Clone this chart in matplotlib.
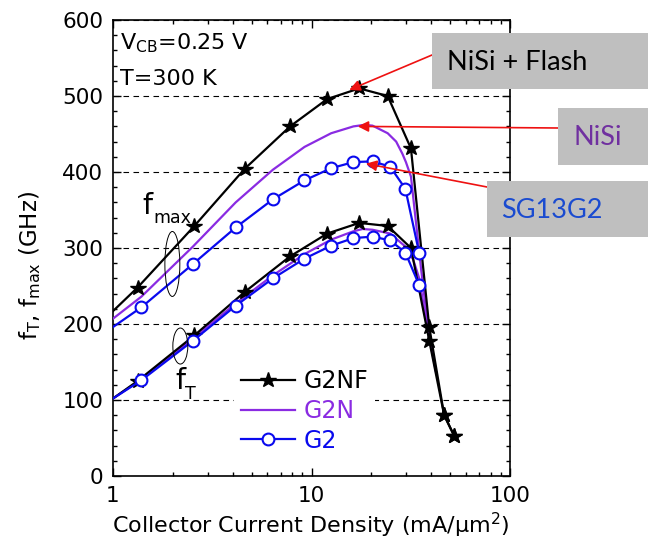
import matplotlib
matplotlib.use('Agg')
import matplotlib.pyplot as plt
from matplotlib.patches import Ellipse, Rectangle
from matplotlib.lines import Line2D
from matplotlib.ticker import MultipleLocator, FixedLocator, NullFormatter, LogLocator

plt.rcParams['font.family'] = ['DejaVu Sans']
plt.rcParams['mathtext.fontset'] = 'dejavusans'

# ---------------- data ----------------
# G2NF (black, stars); first point at J=1 is the line start (no marker)
g2nf_j    = [1.0, 1.33, 2.57, 4.6, 7.8, 12.0, 17.4, 24.2, 31.7, 39.2, 46.6, 52.3]
g2nf_fmax = [217, 248, 329, 404, 460, 496, 510, 500, 431, 196, 80, 53]
g2nf_ft   = [102, 125, 185, 242, 289, 319, 333, 329, 300, 178, 80, 53]

# G2 (blue, open circles); first point at J=1 is the line start (no marker)
g2_j    = [1.0, 1.39, 2.53, 4.15, 6.39, 9.22, 12.56, 16.26, 20.3, 24.9, 29.7, 34.9]
g2_fmax = [196, 222, 279, 327, 364, 389, 405, 413, 414, 407, 378, 293]
g2_ft   = [102, 126, 178, 224, 260, 286, 303, 313, 315, 310, 294, 251]

# G2N (purple, line only)
g2n_fmax_j = [1.0, 1.39, 2.53, 4.15, 6.39, 9.22, 12.56, 16.26, 18.4, 20.3, 24.2,
              26.7, 28.7, 29.9, 31.7, 33.3, 35.7, 38.3, 42.4]
g2n_fmax   = [207, 236, 302, 360, 403, 433, 451, 460, 462, 461, 451,
              440, 424, 413, 394, 343, 271, 205, 137]
g2n_ft_j   = [1.0, 1.39, 2.53, 4.15, 6.39, 9.22, 12.56, 16.26, 18.1, 20.3, 24.9,
              29.7, 32.5, 34.9, 38.3, 42.4]
g2n_ft     = [102, 127, 181, 227, 264, 292, 311, 322, 325, 324, 319,
              302, 285, 260, 195, 137]

series_labels = ['G2NF', 'G2N', 'G2']
x_ticks = [1, 10, 100]
x_ticklabels = ['1', '10', '100']

# annotation callouts: (text, colour, arrow tip in data coords)
callouts = [
    ('NiSi + Flash', 'black',   (15.5, 508)),
    ('NiSi',         '#7030A0', (17.1, 460)),
    ('SG13G2',       '#1A4BD0', (18.8, 411)),
]

C_BLACK = 'black'
C_PURPLE = '#8A2BE2'
C_BLUE = '#0A0AEE'

W, H = 648, 549
fig = plt.figure(figsize=(W / 100, H / 100), dpi=100)


def fx(px):
    return px / W


def fy(py):
    return 1 - py / H


ax = fig.add_axes([fx(113), fy(476), (510 - 113) / W, (476 - 20) / H])

lw = 1.6
star_every = list(range(1, len(g2nf_j)))
circ_every = list(range(1, len(g2_j)))
ax.plot(g2nf_j, g2nf_fmax, color=C_BLACK, lw=lw, marker='*',
        ms=11.5, mfc=C_BLACK, mec=C_BLACK, markevery=star_every, zorder=4)
ax.plot(g2nf_j, g2nf_ft, color=C_BLACK, lw=lw, marker='*',
        ms=11.5, mfc=C_BLACK, mec=C_BLACK, markevery=star_every, zorder=4)

ax.plot(g2n_fmax_j, g2n_fmax, color=C_PURPLE, lw=lw, zorder=3)
ax.plot(g2n_ft_j, g2n_ft, color=C_PURPLE, lw=lw, zorder=3)

ax.plot(g2_j, g2_fmax, color=C_BLUE, lw=lw, marker='o', ms=8.5, mfc='white',
        mec=C_BLUE, mew=1.5, markevery=circ_every, zorder=5)
ax.plot(g2_j, g2_ft, color=C_BLUE, lw=lw, marker='o', ms=8.5, mfc='white',
        mec=C_BLUE, mew=1.5, markevery=circ_every, zorder=5)

ax.set_xscale('log')
ax.set_xlim(1, 100)
ax.set_ylim(0, 600)
ax.xaxis.set_major_locator(FixedLocator(x_ticks))
ax.set_xticklabels(x_ticklabels)
ax.xaxis.set_minor_locator(LogLocator(base=10, subs=range(2, 10)))
ax.xaxis.set_minor_formatter(NullFormatter())
ax.yaxis.set_major_locator(MultipleLocator(100))
ax.yaxis.set_minor_locator(MultipleLocator(20))

ax.tick_params(which='both', direction='in', top=True, right=True, width=1.0)
ax.tick_params(which='major', length=5.5, labelsize=15.5, pad=7)
ax.tick_params(which='minor', length=3)
for s in ax.spines.values():
    s.set_linewidth(1.2)

ax.grid(axis='y', which='major', color='black', lw=0.8, linestyle=(0, (5, 4)))
ax.set_axisbelow(True)

# axis labels
fig.text(fx(311), fy(533), 'Collector Current Density (mA/\u03bcm$^2$)',
         ha='center', va='baseline', fontsize=16)
fig.text(fx(30), fy(265), r'f$_{\rm T}$, f$_{\rm max}$ (GHz)',
         ha='center', va='center', rotation=90, fontsize=16.5)

# condition text
fig.text(fx(120), fy(49), r'V$_{\rm CB}$=0.25 V', ha='left', va='baseline', fontsize=16)
fig.text(fx(120), fy(85), 'T=300 K', ha='left', va='baseline', fontsize=16)

# fmax / fT labels and ellipses
fig.text(fx(142), fy(214), 'f', ha='left', va='baseline', fontsize=20.5)
fig.text(fx(153), fy(223), 'max', ha='left', va='baseline', fontsize=12.5)
fig.text(fx(175), fy(389), 'f', ha='left', va='baseline', fontsize=20.5)
fig.text(fx(185), fy(399), 'T', ha='left', va='baseline', fontsize=12.5)
ax.add_patch(Ellipse((0.1495, 0.465), 0.0377, 0.1425, transform=ax.transAxes,
                     fill=False, ec='black', lw=0.7, zorder=6))
ax.add_patch(Ellipse((0.1696, 0.285), 0.0377, 0.079, transform=ax.transAxes,
                     fill=False, ec='black', lw=0.7, zorder=6))

# legend
h1 = Line2D([], [], color=C_BLACK, lw=lw, marker='*', ms=11.5)
h2 = Line2D([], [], color=C_PURPLE, lw=lw)
h3 = Line2D([], [], color=C_BLUE, lw=lw, marker='o', ms=8.5, mfc='white', mec=C_BLUE, mew=1.5)
leg = ax.legend([h1, h2, h3], series_labels, loc='center left',
                bbox_to_anchor=(fx(234), fy(411)), bbox_transform=fig.transFigure,
                frameon=True, fontsize=17, handlelength=2.3, handletextpad=0.35,
                labelspacing=0.24, borderpad=0.3, borderaxespad=0, numpoints=1,
                labelcolor='linecolor', fancybox=False)
leg.get_frame().set_facecolor('white')
leg.get_frame().set_edgecolor('none')
leg.get_frame().set_alpha(1)
leg.set_zorder(7)

# callout boxes (figure pixel geometry) and red arrows
boxes = [(432, 33, 89), (558, 108, 165), (487, 181, 237)]
text_x = [447, 573, 501]
arrow_start = [(432, 55), (558, 128), (487, 187)]
for (txt, col, tip), (bx, by0, by1), tx, (sx, sy) in zip(callouts, boxes, text_x, arrow_start):
    ax.annotate('', xy=tip, xycoords='data', xytext=(fx(sx), fy(sy)),
                textcoords='figure fraction',
                arrowprops=dict(arrowstyle='-|>', color='#EE1111', lw=1.2,
                                mutation_scale=16, shrinkA=0, shrinkB=0),
                zorder=8, annotation_clip=False)
    fig.add_artist(Rectangle((fx(bx), fy(by1)), (W - bx + 20) / W, (by1 - by0) / H,
                             transform=fig.transFigure, facecolor='#BFBFBF',
                             edgecolor='none', zorder=9))
    fig.text(fx(tx), fy((by0 + by1) / 2 + 1), txt, ha='left', va='center',
             color=col, fontsize=19.5, family='Lato', zorder=10)

fig.savefig('out.png', dpi=100)
